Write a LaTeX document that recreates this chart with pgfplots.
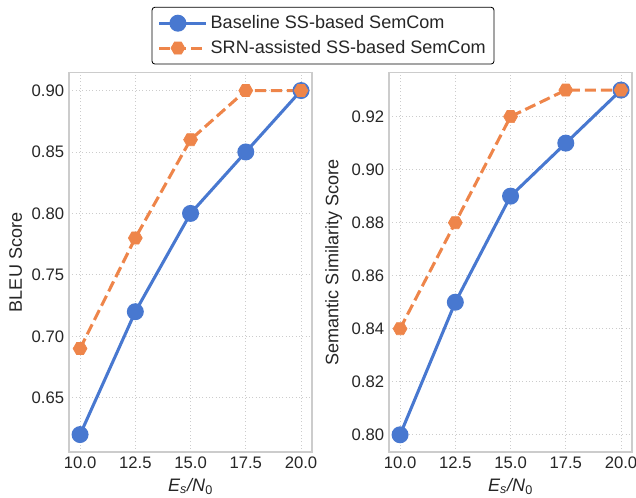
\documentclass[border=0pt]{standalone}
\usepackage{fontspec}
\setmainfont{Liberation Sans}
\usepackage{pgfplots}
\pgfplotsset{compat=1.18}

\definecolor{sbblue}{HTML}{4878D0}
\definecolor{sborange}{HTML}{EE854A}
\definecolor{gridgray}{HTML}{CCCCCC}
\definecolor{txt}{HTML}{262626}

% flat-topped hexagon, like matplotlib's 'H'
\pgfdeclareplotmark{hexH}{%
  \pgfpathmoveto{\pgfqpointpolar{0}{\pgfplotmarksize}}%
  \pgfpathlineto{\pgfqpointpolar{60}{\pgfplotmarksize}}%
  \pgfpathlineto{\pgfqpointpolar{120}{\pgfplotmarksize}}%
  \pgfpathlineto{\pgfqpointpolar{180}{\pgfplotmarksize}}%
  \pgfpathlineto{\pgfqpointpolar{240}{\pgfplotmarksize}}%
  \pgfpathlineto{\pgfqpointpolar{300}{\pgfplotmarksize}}%
  \pgfpathclose
  \pgfusepathqfillstroke}

\pgfplotsset{
  panel/.style={
    scale only axis, width=175pt, height=273pt,
    xmin=9.5, xmax=20.5, xtick={10,12.5,15,17.5,20},
    grid=major, major grid style={gridgray, dotted, line width=0.6pt},
    axis line style={gridgray, line width=0.9pt},
    tick style={draw=none},
    ticklabel style={font=\fontsize{12}{14}\selectfont, text=txt},
    label style={font=\fontsize{13}{15}\selectfont, text=txt},
    /pgf/number format/assume math mode=true,
    x tick label style={/pgf/number format/.cd, fixed, fixed zerofill, precision=1},
    y tick label style={/pgf/number format/.cd, fixed, fixed zerofill, precision=2},
    xlabel={\textit{E\textsubscript{s}/N}\textsubscript{0}},
    legend image code/.code={%
      \draw[mark repeat=2, mark phase=2] plot coordinates {(0pt,0pt) (13.5pt,0pt) (27pt,0pt)};
      \path (0pt,0pt) -- (34pt,0pt);},
  },
  base/.style={sbblue, line width=2.2pt, mark=*, mark size=5pt, mark options={solid}},
  srn/.style={sborange, line width=2.2pt, dash pattern=on 8pt off 3.5pt, mark=hexH, mark size=5pt,
    mark options={solid, fill=sborange, line width=0.5pt}},
}

\begin{document}
\begin{tikzpicture}
\path[use as bounding box] (0,0) rectangle (457.92pt,358.56pt);

\begin{axis}[panel, at={(49.7pt,33.1pt)}, anchor=south west,
  ymin=0.6058, ymax=0.9144, ytick={0.65,0.70,0.75,0.80,0.85,0.90},
  ylabel={BLEU Score},
  legend style={at={(1.045,1.174)}, anchor=north, draw=black, line width=0.6pt,
    rounded corners=2pt, font=\fontsize{13}{15}\selectfont, text=txt,
    row sep=3pt, inner xsep=4pt, inner ysep=4pt},
  legend cell align=left]
\addplot[base] coordinates {(10,0.62) (12.5,0.72) (15,0.80) (17.5,0.85) (20,0.90)};
\addlegendentry{Baseline SS-based SemCom}
\addplot[srn] coordinates {(10,0.69) (12.5,0.78) (15,0.86) (17.5,0.90) (20,0.90)};
\addlegendentry{SRN-assisted SS-based SemCom}
\end{axis}

\begin{axis}[panel, at={(280.1pt,33.1pt)}, anchor=south west,
  ymin=0.7935, ymax=0.9365, ytick={0.80,0.82,0.84,0.86,0.88,0.90,0.92},
  ylabel={Semantic Similarity Score}]
\addplot[base] coordinates {(10,0.80) (12.5,0.85) (15,0.89) (17.5,0.91) (20,0.93)};
\addplot[srn] coordinates {(10,0.84) (12.5,0.88) (15,0.92) (17.5,0.93) (20,0.93)};
\end{axis}
\end{tikzpicture}
\end{document}
